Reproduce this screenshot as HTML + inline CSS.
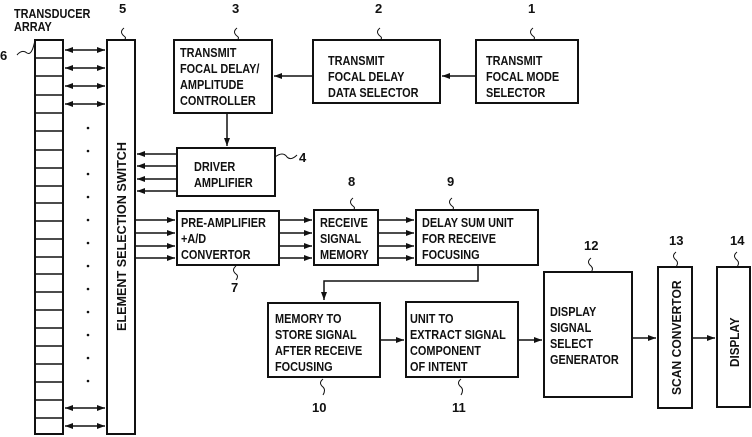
<!DOCTYPE html>
<html><head><style>body{margin:0;background:#fff}svg{display:block}
text{font-family:"Liberation Sans",Arial,sans-serif;font-size:13px;fill:#111;font-weight:bold;transform-box:fill-box;transform-origin:0 50%;transform:scaleX(.84)}
text.n{transform:none}
text.r{transform-box:view-box;transform-origin:0 0}
</style></head>
<body>
<svg width="752" height="437" viewBox="0 0 752 437" xmlns="http://www.w3.org/2000/svg">
<defs><marker id="a" markerWidth="8" markerHeight="6" refX="8" refY="3" orient="auto-start-reverse" markerUnits="userSpaceOnUse"><path d="M0,0L8,3L0,6z" fill="#111"/></marker></defs>
<g stroke="#111" stroke-width="2" fill="none">
<rect x="35" y="40" width="28" height="394"/>
<path d="M35,58H63M35,76H63M35,95H63M35,113H63M35,131H63M35,150H63M35,168H63M35,186H63M35,203H63M35,221H63M35,239H63M35,257H63M35,274H63M35,292H63M35,310H63M35,328H63M35,346H63M35,364H63M35,382H63M35,400H63M35,418H63" stroke-width="1.5"/>
<rect x="107" y="40" width="28" height="394"/>
<path d="M17,55 q5,-6 10,-2 q5,3 8,-13" stroke-width="1"/>
<path d="M124,28 q-5,4 0,8 q3,2 0,4" stroke-width="1"/>
<g marker-start="url(#a)" marker-end="url(#a)" stroke-width="1.5">
<path d="M65,50H105"/><path d="M65,68H105"/><path d="M65,86H105"/><path d="M65,104H105"/><path d="M65,408H105"/><path d="M65,426H105"/>
</g>
<rect x="174" y="40" width="98" height="73"/>
<rect x="313" y="40" width="127" height="63"/>
<rect x="476" y="40" width="102" height="63"/>
<g marker-end="url(#a)" stroke-width="1.5">
<path d="M476,76H442"/><path d="M313,76H274"/>
<path d="M227,113V146"/>
<path d="M177,154H137"/><path d="M177,166H137"/><path d="M177,179H137"/><path d="M177,191H137"/>
<path d="M135,220H175"/><path d="M135,233H175"/><path d="M135,246H175"/><path d="M135,258H175"/>
<path d="M279,220H312"/><path d="M279,233H312"/><path d="M279,246H312"/><path d="M279,258H312"/>
<path d="M378,220H414"/><path d="M378,233H414"/><path d="M378,246H414"/><path d="M378,258H414"/>
<path d="M478,265V281H324V300"/>
<path d="M380,340H404"/><path d="M518,340H542"/><path d="M632,338H656"/><path d="M692,338H715"/>
</g>
<path d="M237,28 q-5,4 0,8 q3,2 0,4" stroke-width="1"/>
<path d="M380,28 q-5,4 0,8 q3,2 0,4" stroke-width="1"/>
<path d="M533,28 q-5,4 0,8 q3,2 0,4" stroke-width="1"/>
<rect x="177" y="148" width="98" height="48"/>
<path d="M275,157 q8,-6 12,0 q4,4 10,-2" stroke-width="1"/>
<rect x="177" y="211" width="102" height="54"/>
<rect x="314" y="210" width="64" height="55"/>
<rect x="416" y="210" width="122" height="55"/>
<path d="M353,198 q-5,4 0,8 q3,2 0,4" stroke-width="1"/>
<path d="M452,198 q-5,4 0,8 q3,2 0,4" stroke-width="1"/>
<path d="M236,266 q-5,4 0,8 q3,2 0,6" stroke-width="1"/>
<rect x="268" y="303" width="112" height="74"/>
<rect x="406" y="302" width="112" height="75"/>
<rect x="544" y="272" width="88" height="125"/>
<rect x="658" y="267" width="34" height="141"/>
<rect x="717" y="267" width="33" height="140"/>
<path d="M323,379 q-5,4 0,8 q3,3 0,8" stroke-width="1"/>
<path d="M461,379 q-5,4 0,8 q3,3 0,8" stroke-width="1"/>
<path d="M591,258 q-5,4 0,8 q3,3 0,6" stroke-width="1"/>
<path d="M676,252 q-5,4 0,8 q3,3 0,7" stroke-width="1"/>
<path d="M737,252 q-5,4 0,8 q3,3 0,7" stroke-width="1"/>
</g>
<g fill="#111"><circle cx="88" cy="128" r="1.3"/><circle cx="88" cy="151" r="1.3"/><circle cx="88" cy="174" r="1.3"/><circle cx="88" cy="197" r="1.3"/><circle cx="88" cy="220" r="1.3"/><circle cx="88" cy="243" r="1.3"/><circle cx="88" cy="266" r="1.3"/><circle cx="88" cy="289" r="1.3"/><circle cx="88" cy="312" r="1.3"/><circle cx="88" cy="335" r="1.3"/><circle cx="88" cy="358" r="1.3"/><circle cx="88" cy="381" r="1.3"/></g>
<text x="14" y="18" font-size="13">TRANSDUCER</text>
<text x="14" y="31" font-size="13">ARRAY</text>
<text class="n" x="0" y="60" font-size="14">6</text>
<text class="n" x="119" y="13" font-size="14">5</text>
<text class="n" x="232" y="13" font-size="14">3</text>
<text class="n" x="375" y="13" font-size="14">2</text>
<text class="n" x="528" y="13" font-size="14">1</text>
<text class="n" x="299" y="162" font-size="14">4</text>
<text class="n" x="348" y="186" font-size="14">8</text>
<text class="n" x="447" y="186" font-size="14">9</text>
<text class="n" x="231" y="292" font-size="14">7</text>
<text class="n" x="312" y="412" font-size="14">10</text>
<text class="n" x="452" y="412" font-size="14">11</text>
<text class="n" x="584" y="250" font-size="14">12</text>
<text class="n" x="669" y="245" font-size="14">13</text>
<text class="n" x="730" y="245" font-size="14">14</text>
<text class="r" style="transform:translate(126px,331px) rotate(-90deg) scaleX(.97)" x="0" y="0">ELEMENT SELECTION SWITCH</text>
<text x="180" y="57">TRANSMIT</text><text x="180" y="73">FOCAL DELAY/</text><text x="180" y="89">AMPLITUDE</text><text x="180" y="105">CONTROLLER</text>
<text x="328" y="65">TRANSMIT</text><text x="328" y="81">FOCAL DELAY</text><text x="328" y="97">DATA SELECTOR</text>
<text x="486" y="65">TRANSMIT</text><text x="486" y="81">FOCAL MODE</text><text x="486" y="97">SELECTOR</text>
<text x="194" y="171">DRIVER</text><text x="194" y="187">AMPLIFIER</text>
<text x="181" y="227">PRE-AMPLIFIER</text><text x="181" y="243">+A/D</text><text x="181" y="259">CONVERTOR</text>
<text x="320" y="227">RECEIVE</text><text x="320" y="243">SIGNAL</text><text x="320" y="259">MEMORY</text>
<text x="422" y="227">DELAY SUM UNIT</text><text x="422" y="243">FOR RECEIVE</text><text x="422" y="259">FOCUSING</text>
<text x="275" y="323">MEMORY TO</text><text x="275" y="339">STORE SIGNAL</text><text x="275" y="355">AFTER RECEIVE</text><text x="275" y="371">FOCUSING</text>
<text x="410" y="323">UNIT TO</text><text x="410" y="339">EXTRACT SIGNAL</text><text x="410" y="355">COMPONENT</text><text x="410" y="371">OF INTENT</text>
<text x="550" y="316">DISPLAY</text><text x="550" y="332">SIGNAL</text><text x="550" y="348">SELECT</text><text x="550" y="364">GENERATOR</text>
<text class="r" style="transform:translate(681px,395px) rotate(-90deg) scaleX(.93)" x="0" y="0">SCAN CONVERTOR</text>
<text class="r" style="transform:translate(739px,367px) rotate(-90deg) scaleX(.9)" x="0" y="0">DISPLAY</text>
</svg>
</body></html>
